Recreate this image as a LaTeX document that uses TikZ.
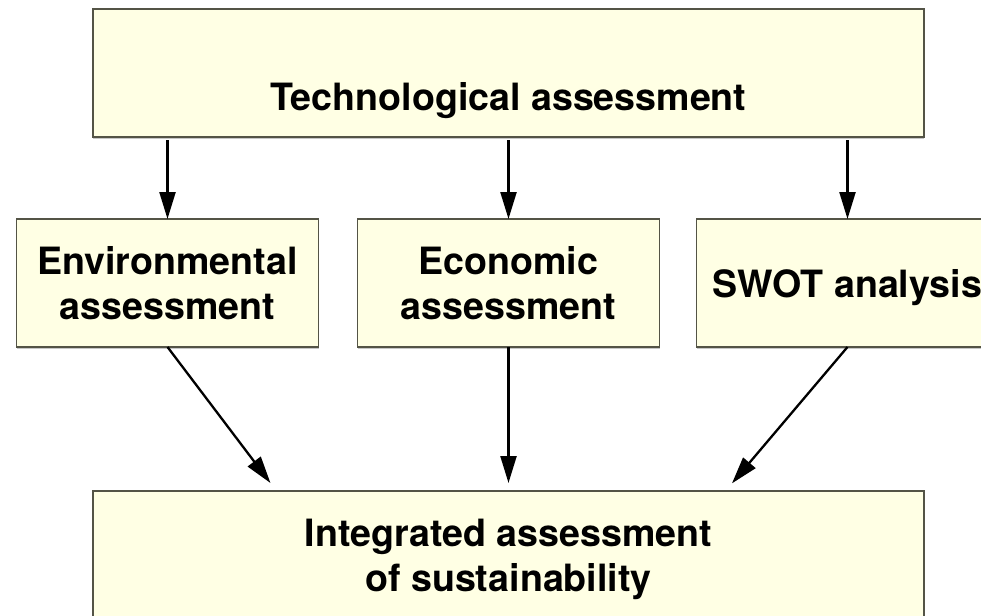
\documentclass[tikz,border=0pt]{standalone}
\usepackage{fontspec}
\setmainfont{TeX Gyre Heros}
\usetikzlibrary{arrows.meta, positioning, shadows, calc}
\definecolor{boxfill}{RGB}{255,255,228}
\definecolor{boxline}{RGB}{84,84,70}
\tikzstyle{flow} = [line width=1.15pt, -{Triangle[length=13.5pt,width=8pt]}]
\tikzstyle{assessbox} = [rectangle, draw=boxline, line width=0.6pt, fill=boxfill, minimum width=151pt, minimum height=64pt, text centered, align=center, text depth=0pt, outer sep=0pt, font=\fontsize{18.8}{22.5}\selectfont\bfseries, drop shadow={shadow xshift=0pt, shadow yshift=-0.8pt, fill=black!22, opacity=1}]

\begin{document}
\begin{tikzpicture}[x=0.5pt, y=-0.5pt]
\useasboundingbox (0,0) rectangle (981,616);
\clip (0,0) rectangle (981,616);

\node[assessbox, minimum width=415.5pt, text height=37pt] (tech) at (508.5,73) {Technological assessment};

\node[assessbox, below=41pt of tech] (econ) {Economic\\assessment};
\node[assessbox, left=19.5pt of econ] (env) {Environmental\\assessment};
\node[assessbox, right=18.5pt of econ] (swot) {SWOT analysis};

\node[assessbox, minimum width=415.5pt, below=72pt of econ] (integ) {Integrated assessment\\of sustainability};

% from the technology down to the three studies
\draw[flow, shorten <=1.5pt] (tech.south -| env.north) -- (env.north);
\draw[flow, shorten <=1.5pt] (tech.south -| econ.north) -- (econ.north);
\draw[flow, shorten <=1.5pt] (tech.south -| swot.north) -- (swot.north);

% studies feed the integrated one
\draw[flow, shorten >=5pt] (env.south) -- ($(integ.north)+(-232,0)$);
\draw[flow, shorten >=4pt] (econ.south) -- (integ.north);
\draw[flow, shorten >=5pt] (swot.south) -- ($(integ.north)+(217,0)$);

\end{tikzpicture}
\end{document}
